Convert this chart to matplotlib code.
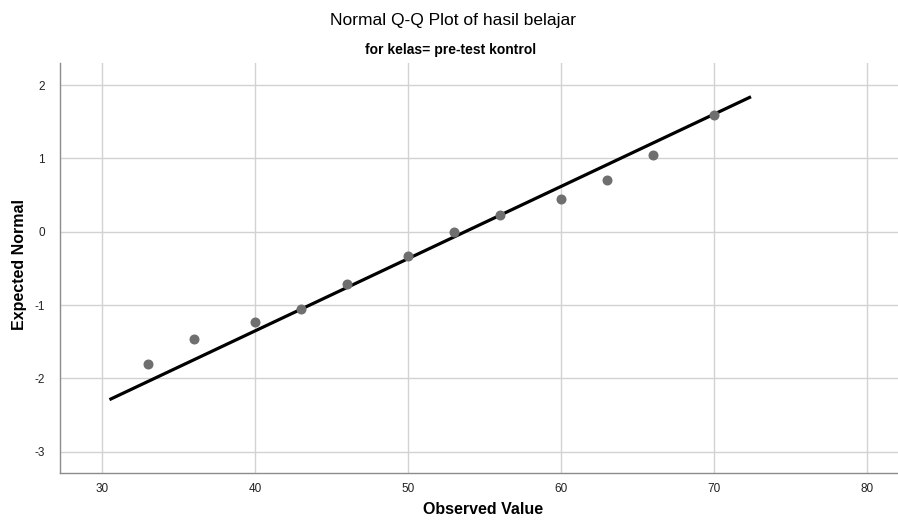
import matplotlib
matplotlib.use("Agg")
import matplotlib.pyplot as plt

# Data
observed = [33, 36, 40, 43, 46, 50, 53, 56, 60, 63, 66, 70]
expected = [-1.80, -1.46, -1.23, -1.05, -0.71, -0.33, 0.00, 0.23, 0.44, 0.71, 1.05, 1.59]
fit_x = [30.5, 72.4]
fit_y = [-2.29, 1.84]
x_ticks = [30, 40, 50, 60, 70, 80]
y_ticks = [-3, -2, -1, 0, 1, 2]

plt.rcParams['font.family'] = ['Liberation Sans', 'DejaVu Sans']
plt.rcParams['axes.unicode_minus'] = False

fig = plt.figure(figsize=(8.98, 5.24), dpi=100)
ax = fig.add_axes([60/898, (524-473)/524, (898-60)/898, (473-63)/524])

ax.set_xlim(27.27, 82.0)
ax.set_ylim(-3.29, 2.30)
ax.set_xticks(x_ticks)
ax.set_yticks(y_ticks)
ax.grid(True, color='#d2d2d2', linewidth=1.0)
ax.set_axisbelow(True)

ax.plot(fit_x, fit_y, color='black', linewidth=2.3, solid_capstyle='butt', zorder=3)
ax.plot(observed, expected, linestyle='none', marker='o', markersize=6.2,
        markerfacecolor='#6f6f6f', markeredgecolor='#6f6f6f', zorder=4)

for s in ['top', 'right']:
    ax.spines[s].set_visible(False)
for s in ['left', 'bottom']:
    ax.spines[s].set_color('#8c8c8c')
    ax.spines[s].set_linewidth(1.0)
ax.tick_params(axis='both', length=0, labelsize=8.5, labelcolor='#222222')
ax.tick_params(axis='x', pad=7)
ax.tick_params(axis='y', pad=11)

fig.text(20/898, 1 - 265/524, 'Expected Normal', rotation=90, ha='center', va='center',
         fontsize=11.5, fontweight='bold')
fig.text(483/898, 1 - 510/524, 'Observed Value', ha='center', va='center',
         fontsize=11.5, fontweight='bold')

fig.text(453/898, 1 - 21/524, 'Normal Q-Q Plot of hasil belajar', ha='center', va='center',
         fontsize=12.5, fontweight='medium')
fig.text(451/898, 1 - 50/524, 'for kelas= pre-test kontrol', ha='center', va='center',
         fontsize=10, fontweight='bold')

fig.savefig('out.png', dpi=100)
